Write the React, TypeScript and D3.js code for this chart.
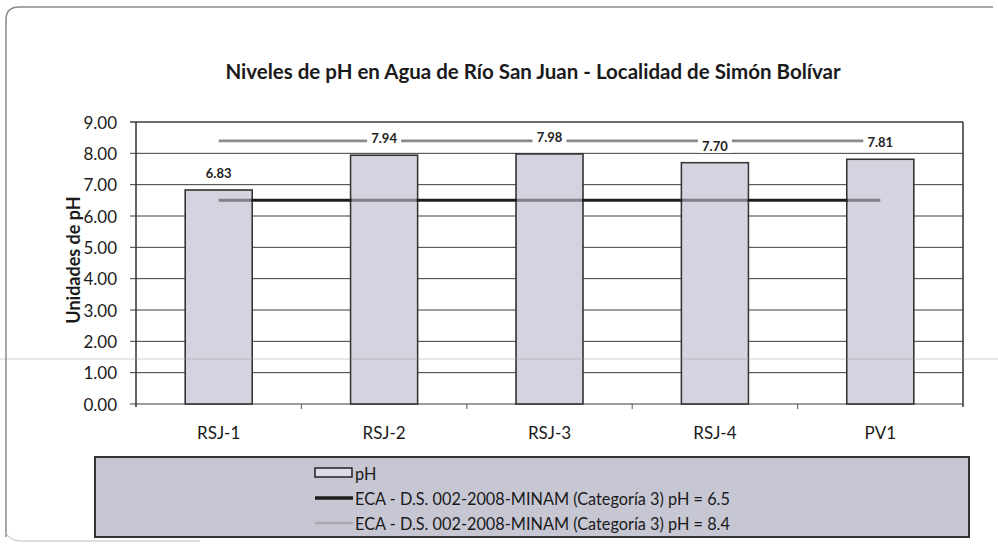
import React from "react";
import * as d3 from "d3";

const categories = ["RSJ-1", "RSJ-2", "RSJ-3", "RSJ-4", "PV1"];
const phValues = [6.83, 7.94, 7.98, 7.7, 7.81];
const ecaMin = 6.5;
const ecaMax = 8.4;
const yTicks = [0, 1, 2, 3, 4, 5, 6, 7, 8, 9];
const title = "Niveles de pH en Agua de Río San Juan - Localidad de Simón Bolívar";
const yLabel = "Unidades de pH";
const legendLabels = [
  "pH",
  "ECA - D.S. 002-2008-MINAM (Categoría 3) pH = 6.5",
  "ECA - D.S. 002-2008-MINAM (Categoría 3) pH = 8.4",
];

const W = 998;
const H = 546;
const plot = { left: 136, right: 963, top: 122, bottom: 404 };
const font = "Lato, 'Open Sans', sans-serif";

export default function App() {
  const x = d3
    .scaleBand<string>()
    .domain(categories)
    .range([plot.left, plot.right])
    .paddingInner(0.595)
    .paddingOuter(0.2975);
  const y = d3.scaleLinear().domain([0, 9]).range([plot.bottom, plot.top]);
  const step = x.step();
  const center = (c: string) => (x(c) as number) + x.bandwidth() / 2;
  const lineX1 = center(categories[0]);
  const lineX2 = center(categories[categories.length - 1]);
  const lineGen = d3.line<[number, number]>();

  const barFill = "#d4d4e0";
  const grid = "#3c3c3c";

  return (
    <svg
      width={W}
      height={H}
      style={{ position: "absolute", left: 0, top: 0, background: "#fff" }}
      fontFamily={font}
    >
      {/* outer chart border */}
      <path
        d="M 6 537 L 6 20 Q 6 7 19 7 L 993 7"
        fill="none"
        stroke="#8a8a8a"
        strokeWidth={1.5}
      />
      <path d="M 6 532 Q 8 540 20 541 L 200 541" fill="none" stroke="#bbb" strokeWidth={1} />

      {/* title */}
      <text
        x={533}
        y={71}
        textAnchor="middle"
        dominantBaseline="central"
        fontSize={20.5}
        fontWeight="bold"
        fill="#1a1a1a"
      >
        {title}
      </text>

      {/* gridlines */}
      {yTicks.map((t) => (
        <line
          key={"g" + t}
          x1={plot.left - 6}
          x2={plot.right}
          y1={y(t)}
          y2={y(t)}
          stroke={grid}
          strokeWidth={t === 9 ? 1.6 : 1}
        />
      ))}
      {/* axis lines */}
      <line x1={plot.left} x2={plot.left} y1={plot.top} y2={plot.bottom + 3} stroke="#333" strokeWidth={1.5} />
      <line x1={plot.right} x2={plot.right} y1={plot.top} y2={plot.bottom + 3} stroke="#333" strokeWidth={1.5} />
      {d3.range(1, categories.length).map((i) => (
        <line
          key={"xt" + i}
          x1={plot.left + step * i}
          x2={plot.left + step * i}
          y1={plot.bottom}
          y2={plot.bottom + 5}
          stroke="#555"
          strokeWidth={1}
        />
      ))}

      {/* y tick labels */}
      {yTicks.map((t) => (
        <text
          key={"yl" + t}
          x={117}
          y={y(t)}
          textAnchor="end"
          dominantBaseline="central"
          fontSize={17}
          fill="#1a1a1a"
        >
          {t.toFixed(2)}
        </text>
      ))}
      <text
        transform={`translate(73,${(plot.top + plot.bottom) / 2 - 3}) rotate(-90)`}
        textAnchor="middle"
        dominantBaseline="central"
        fontSize={18}
        fontWeight="bold"
        fill="#1a1a1a"
      >
        {yLabel}
      </text>

      {/* category labels */}
      {categories.map((c) => (
        <text
          key={"c" + c}
          x={center(c)}
          y={432}
          textAnchor="middle"
          dominantBaseline="central"
          fontSize={17}
          fill="#1a1a1a"
        >
          {c}
        </text>
      ))}

      {/* bars */}
      {categories.map((c, i) => (
        <rect
          key={"b" + c}
          x={x(c)}
          y={y(phValues[i])}
          width={x.bandwidth()}
          height={plot.bottom - y(phValues[i])}
          fill={barFill}
          stroke="#333"
          strokeWidth={1.6}
        />
      ))}

      {/* ECA lines */}
      <path
        d={lineGen([
          [lineX1, y(ecaMax)],
          [lineX2, y(ecaMax)],
        ]) as string}
        stroke="#8a8a8a"
        strokeWidth={2.8}
        fill="none"
      />
      <path
        d={lineGen([
          [lineX1, y(ecaMin)],
          [lineX2, y(ecaMin)],
        ]) as string}
        stroke="#1e1e1e"
        strokeWidth={3}
        fill="none"
      />
      {/* bar overlay softening lines inside bars */}
      {categories.map((c, i) => (
        <rect
          key={"bo" + c}
          x={(x(c) as number) + 1}
          y={y(phValues[i]) + 1}
          width={x.bandwidth() - 2}
          height={plot.bottom - y(phValues[i]) - 2}
          fill={barFill}
          fillOpacity={0.55}
        />
      ))}

      {/* data labels */}
      {categories.map((c, i) => (
        <g key={"dl" + c}>
          <rect
            x={center(c) - 17}
            y={y(phValues[i]) - 25}
            width={34}
            height={15}
            fill="#fff"
          />
          <text
            x={center(c)}
            y={y(phValues[i]) - 17}
            textAnchor="middle"
            dominantBaseline="central"
            fontSize={13}
            fontWeight="bold"
            fill="#222"
          >
            {phValues[i].toFixed(2)}
          </text>
        </g>
      ))}

      {/* legend */}
      <rect x={95} y={457} width={874} height={80} fill="#c7c7d4" stroke="#333" strokeWidth={2} />
      <rect x={315} y={468} width={37} height={9} fill="#dcdce6" stroke="#222" strokeWidth={1.5} />
      <line x1={315} x2={353} y1={498} y2={498} stroke="#1e1e1e" strokeWidth={3.5} />
      <line x1={315} x2={353} y1={523} y2={523} stroke="#a8a8b0" strokeWidth={2.5} />
      {legendLabels.map((l, i) => (
        <text
          key={"lg" + i}
          x={355}
          y={473 + i * 25}
          dominantBaseline="central"
          fontSize={16.3}
          fill="#1a1a1a"
        >
          {l}
        </text>
      ))}

      {/* faint scan line */}
      <line x1={0} x2={W} y1={359} y2={359} stroke="#999" strokeOpacity={0.45} strokeWidth={1} />
    </svg>
  );
}
